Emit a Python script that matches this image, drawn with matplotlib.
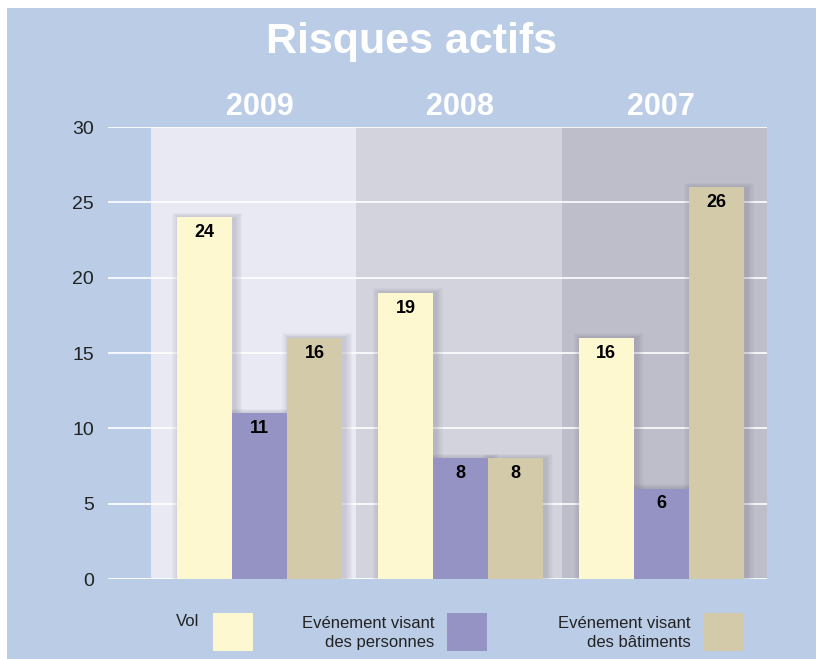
import matplotlib.pyplot as plt
import matplotlib.patches as mpatches
import numpy as np

years = ['2009', '2008', '2007']
series = ['Vol', 'Evénement visant\ndes personnes', 'Evénement visant\ndes bâtiments']
vol = [24, 19, 16]
personnes = [11, 8, 6]
batiments = [16, 8, 26]
values = [vol, personnes, batiments]

bar_colors = ['#FDF8CF', '#9593C4', '#D2CAA8']
panel_colors = ['#E9E9F3', '#D3D3DE', '#BEBECA']
bg = '#BBCDE6'

plt.rcParams['font.family'] = ['Liberation Sans', 'DejaVu Sans']

W, H = 816, 659
fig = plt.figure(figsize=(W / 100, H / 100), dpi=100, facecolor='white')
fig.patches.append(mpatches.Rectangle((7 / W, 0), 1, 1 - 8 / H, transform=fig.transFigure,
                                      facecolor=bg, edgecolor='none', zorder=-10))

ax = fig.add_axes([108 / W, 1 - 579 / H, 659 / W, 452 / H])
ax.set_facecolor('none')
ax.set_xlim(-43 / 205, 3)
ax.set_ylim(0, 30)

# panels
for i, c in enumerate(panel_colors):
    ax.axvspan(i, i + 1, color=c, zorder=0, lw=0)

# grid
for y in range(5, 31, 5):
    ax.axhline(y, color='white', lw=1.2, zorder=1)
ax.axhline(0, color='white', lw=2, zorder=1)

bw = 55 / 205
x = np.arange(len(years))
centers = 0.529 + 0.978 * x
offsets = np.array([-1, 0, 1]) * bw

for k, vals in enumerate(values):
    xs = centers + offsets[k]
    # soft shadow
    for s in range(6, 0, -1):
        ax.bar(xs + 0.012, np.array(vals) + 0.05 * s, width=bw + 0.012 * s,
               color='#5a5a70', alpha=0.04, zorder=2, lw=0)
    ax.bar(xs, vals, width=bw, color=bar_colors[k], zorder=3, lw=0)
    for xi, v in zip(xs, vals):
        ax.text(xi, v - 0.45, str(v), ha='center', va='top', fontsize=13,
                fontweight='bold', color='black', zorder=4)

for i, yr in enumerate(years):
    ax.text(centers[i], 31.35, yr, ha='center', va='center', fontsize=22,
            fontweight='bold', color='white', clip_on=False)

ax.set_yticks(range(0, 31, 5))
ax.set_xticks([])
ax.tick_params(axis='y', length=0, labelsize=14, colors='#222222', pad=10)
for s in ax.spines.values():
    s.set_visible(False)

fig.text(412 / W, 1 - 42 / H, 'Risques actifs', ha='center', va='center',
         fontsize=31, fontweight='bold', color='white')

# legend
leg_sq = [(213, 253), (447, 487), (704, 744)]
leg_text_right = [199, 434, 691]
for k, lab in enumerate(series):
    x0, x1 = leg_sq[k]
    fig.patches.append(mpatches.Rectangle((x0 / W, 1 - 651 / H), (x1 - x0) / W, 38 / H,
                                          transform=fig.transFigure,
                                          facecolor=bar_colors[k], edgecolor='none'))
    ty = 621 if k == 0 else 633
    fig.text(leg_text_right[k] / W, 1 - ty / H, lab, ha='right', va='center',
             fontsize=12, color='#222222', linespacing=1.3)

fig.savefig('out.png', dpi=100, facecolor='white')
